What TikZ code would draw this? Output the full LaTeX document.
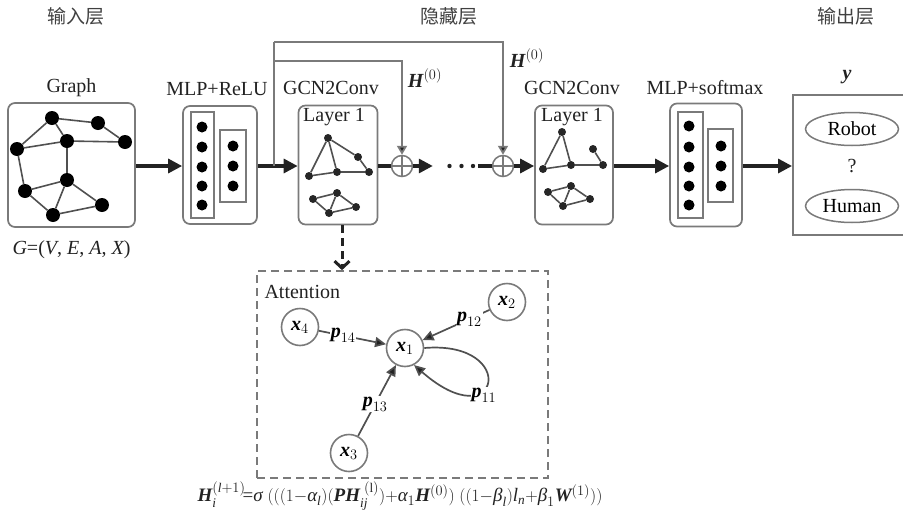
\documentclass[tikz,border=0pt]{standalone}
\usepackage{fontspec}
\setmainfont{Liberation Serif}
\newfontfamily\cjk{Noto Sans CJK SC}
\usepackage{amsmath}
\usetikzlibrary{arrows.meta,shapes.geometric}
\definecolor{dk}{HTML}{222222}
\definecolor{gy}{HTML}{7A7A7A}
\definecolor{eg}{HTML}{505050}
\newcommand{\BI}[1]{\text{\bfseries\itshape #1}}
\newcommand{\TI}[1]{\text{\itshape #1}}
\newcommand{\mi}{\mathord{-}}
\newcommand{\pl}{\mathord{+}}
\tikzset{
  rbox/.style={draw=gy, line width=1.7pt, rounded corners=7pt, minimum width=#1},
  sqbox/.style={draw=gy, line width=1.4pt},
  bigdot/.style={circle, fill=black, inner sep=0pt, minimum size=14pt},
  mdot/.style={circle, fill=black, inner sep=0pt, minimum size=11pt},
  sdot/.style={circle, fill=black!85, inner sep=0pt, minimum size=8pt},
  gedge/.style={draw=eg, line width=1.6pt},
  arr/.style={line width=3.2pt, draw=dk, -{Triangle[length=14pt,width=14pt]}},
  plainline/.style={line width=3.2pt, draw=dk},
  hline/.style={line width=1.8pt, draw=gy},
  harr/.style={line width=1.8pt, draw=gy, -{Triangle[length=9pt,width=10pt,fill=dk]}},
  opl/.style={circle, draw=gy, line width=1.5pt, minimum size=21pt, inner sep=0pt, fill=white,
    path picture={\draw[gy, line width=1.4pt] (path picture bounding box.north) -- (path picture bounding box.south)
      (path picture bounding box.west) -- (path picture bounding box.east);}},
  xnode/.style={circle, draw=gy, line width=1.6pt, minimum size=37pt, inner sep=0pt, fill=white},
  aarr/.style={line width=1.7pt, draw=eg, -{Triangle[length=11pt,width=10pt,fill=dk]}},
  plab/.style={fill=white, inner sep=1pt},
  lbl/.style={text=dk},
  ell/.style={ellipse, draw=gy, line width=1.5pt, minimum width=93pt, minimum height=33pt, inner sep=0pt},
}
\begin{document}
\begin{tikzpicture}[x=1pt,y=-1pt, font=\fontsize{20}{23}\selectfont]
\useasboundingbox (0,0) rectangle (903,517);
% layer titles
\node[text=black!75, font=\cjk\fontsize{19}{21}\selectfont] (tin) at (76,16) {输入层};
\node[text=black!75, font=\cjk\fontsize{19}{21}\selectfont] (thid) at (449,16) {隐藏层};
\node[text=black!75, font=\cjk\fontsize{19}{21}\selectfont] (tout) at (846,16) {输出层};

% ---------- Graph ----------
\node[rbox=127pt, minimum height=124pt] (graph) at (71.5,165) {};
\node[lbl] (graphlbl) at (71.5,88) {Graph};
\node[lbl] (glbl) at (71.5,250) {$\TI{G}\text{=(}\TI{V}\text{, }\TI{E}\text{, }\TI{A}\text{, }\TI{X}\text{)}$};
\foreach \n/\x/\y in {g1/52/118, g2/98/123, g3/67/141, g4/125/142, g5/17/149, g6/67/180, g7/25/191, g8/102/205, g9/53/215}
  \node[bigdot] (\n) at (\x,\y) {};
\foreach \a/\b in {g1/g2, g2/g4, g1/g3, g1/g5, g3/g5, g3/g4, g3/g6, g5/g7, g7/g6, g7/g9, g6/g9, g6/g8, g9/g8}
  \draw[gedge] (\a) -- (\b);

% ---------- MLP+ReLU ----------
\node[rbox=74pt, minimum height=118pt] (mlp1) at (220,165) {};
\node[lbl] (mlp1lbl) at (217,89) {MLP+ReLU};
\node[sqbox, minimum width=23pt, minimum height=106pt] (m1r1) at (202.5,165) {};
\node[sqbox, minimum width=26pt, minimum height=72pt] (m1r2) at (233,166) {};
\foreach \y [count=\i] in {127,147,167,186,205} \node[mdot] (m1a\i) at (202,\y) {};
\foreach \y [count=\i] in {146,166,186} \node[mdot] (m1b\i) at (233,\y) {};

% ---------- GCN2Conv 1 ----------
\node[rbox=79pt, minimum height=119pt] (gcn1) at (338,165) {};
\node[lbl] (gcn1lbl) at (331,88) {GCN2Conv};
\node[lbl] (lay1) at (334,117) {Layer 1};
\foreach \n/\x/\y in {a1/328/138, a2/358/157, a3/309/176, a4/337/172, a5/369/172,
                      b1/313/199, b2/337/193, b3/329/213, b4/356/207}
  \node[sdot] (\n) at (\x,\y) {};
\foreach \a/\b in {a1/a3, a1/a4, a1/a2, a2/a5, a3/a4, a4/a5, b1/b2, b1/b3, b2/b3, b2/b4, b3/b4}
  \draw[gedge] (\a) -- (\b);

% ---------- GCN2Conv 2 ----------
\node[rbox=78pt, minimum height=119pt] (gcn2) at (574,165) {};
\node[lbl] (gcn2lbl) at (572,88) {GCN2Conv};
\node[lbl] (lay2) at (572,117) {Layer 1};
\foreach \n/\x/\y in {c1/562/132, c2/543/169, c3/571/165, c4/593/149, c5/603/165,
                      d1/548/192, d2/571/186, d3/563/206, d4/590/199}
  \node[sdot] (\n) at (\x,\y) {};
\foreach \a/\b in {c1/c2, c1/c3, c2/c3, c3/c5, c4/c5, d1/d2, d1/d3, d2/d3, d2/d4, d3/d4}
  \draw[gedge] (\a) -- (\b);

% ---------- MLP+softmax ----------
\node[rbox=72pt, minimum height=123pt] (mlp2) at (706,165) {};
\node[lbl] (mlp2lbl) at (705,88) {MLP+softmax};
\node[sqbox, minimum width=25pt, minimum height=106pt] (m2r1) at (690.5,165) {};
\node[sqbox, minimum width=25pt, minimum height=73pt] (m2r2) at (720.5,165.5) {};
\foreach \y [count=\i] in {126,147,167,186,205} \node[mdot] (m2a\i) at (689,\y) {};
\foreach \y [count=\i] in {146,166,186} \node[mdot] (m2b\i) at (721,\y) {};

% ---------- Output ----------
\node[draw=gy, line width=1.9pt, minimum width=117pt, minimum height=140pt] (out) at (851.5,165) {};
\node[lbl] (ylbl) at (847,77) {$\BI{y}$};
\node[ell] (robot) at (852,129) {Robot};
\node[lbl] (q) at (852,166) {?};
\node[ell] (human) at (852,206) {Human};

% ---------- oplus and dots ----------
\node[opl] (op1) at (402,166) {};
\node[opl] (op2) at (503,166) {};
\node[minimum width=45pt, minimum height=6pt, inner sep=0pt,
  path picture={\fill[dk] ([xshift=-6pt]path picture bounding box.center) circle (2.2pt)
    ([xshift=6pt]path picture bounding box.center) circle (2.2pt)
    ([xshift=17.5pt]path picture bounding box.center) circle (2.2pt);}] (dots) at (455.5,166) {};

% ---------- main flow ----------
\draw[arr] (graph.east |- 0,166) -- (mlp1.west |- 0,166);
\draw[arr] (mlp1.east |- 0,166) -- (gcn1.west |- 0,166);
\draw[plainline] (gcn1.east |- 0,166) -- (op1.west);
\draw[arr] (op1.east) -- (dots.west);
\draw[plainline] (dots.east) -- (op2.west);
\draw[arr] (op2.east) -- (gcn2.west |- 0,166);
\draw[arr] (gcn2.east |- 0,166) -- (mlp2.west |- 0,166);
\draw[arr] (mlp2.east |- 0,166) -- (out.west |- 0,166);

% ---------- skip connections H(0) ----------
\coordinate (br) at (274,166);
\coordinate (top1) at (274,61);
\coordinate (top2) at (274,42);
\draw[hline] (br) -- (top2);
\draw[harr] (top2) -| (op2.north);
\draw[harr] (top1) -| (op1.north);
\node[lbl] (h1) at (425,78) {$\BI{H}^{(0)}$};
\node[lbl] (h2) at (527,58) {$\BI{H}^{(0)}$};

% ---------- Attention ----------
\node[draw=gy, line width=1.7pt, dash pattern=on 8pt off 5pt, minimum width=291pt, minimum height=207pt] (att) at (402.5,374.5) {};
\draw[line width=3pt, draw=dk, dash pattern=on 8pt off 5pt, -{Straight Barb[length=7pt,width=15pt]}] (gcn1.south -| 342,0) -- (att.north -| 342,0);
\node[lbl, anchor=west] (attlbl) at (261,292) {Attention};
\node[xnode] (x1) at (405,348) {$\BI{x}_1$};
\node[xnode] (x2) at (507,302) {$\BI{x}_2$};
\node[xnode] (x3) at (349,453) {$\BI{x}_3$};
\node[xnode] (x4) at (300,327) {$\BI{x}_4$};
\draw[aarr] (x4) -- node[plab, pos=0.36] (p14) {$\BI{p}_{14}$} (x1);
\draw[aarr] (x2) -- node[plab, pos=0.3] (p12) {$\BI{p}_{12}$} (x1);
\draw[aarr] (x3) -- node[plab, pos=0.45] (p13) {$\BI{p}_{13}$} (x1);
\draw[aarr] (x1.east) .. controls (520,340) and (500,440) .. (x1.-62);
\node[plab] (p11) at (484,395) {$\BI{p}_{11}$};

% ---------- formula ----------
\node[lbl, font=\fontsize{19}{22}\selectfont] (formula) at (400,496) {$\BI{H}_{\TI{i}}^{(\TI{l}\pl1)}\!\text{=}\TI{σ}\;(((1\mi\TI{α}_{\TI{l}})(\BI{PH}_{\TI{ij}}^{\;(\mathrm{l})})\pl\TI{α}_1\BI{H}^{(0)})\;((1\mi\TI{β}_{\TI{l}})\TI{l}_{\TI{n}}\pl\TI{β}_1\BI{W}^{(1)}))$};
\end{tikzpicture}
\end{document}
